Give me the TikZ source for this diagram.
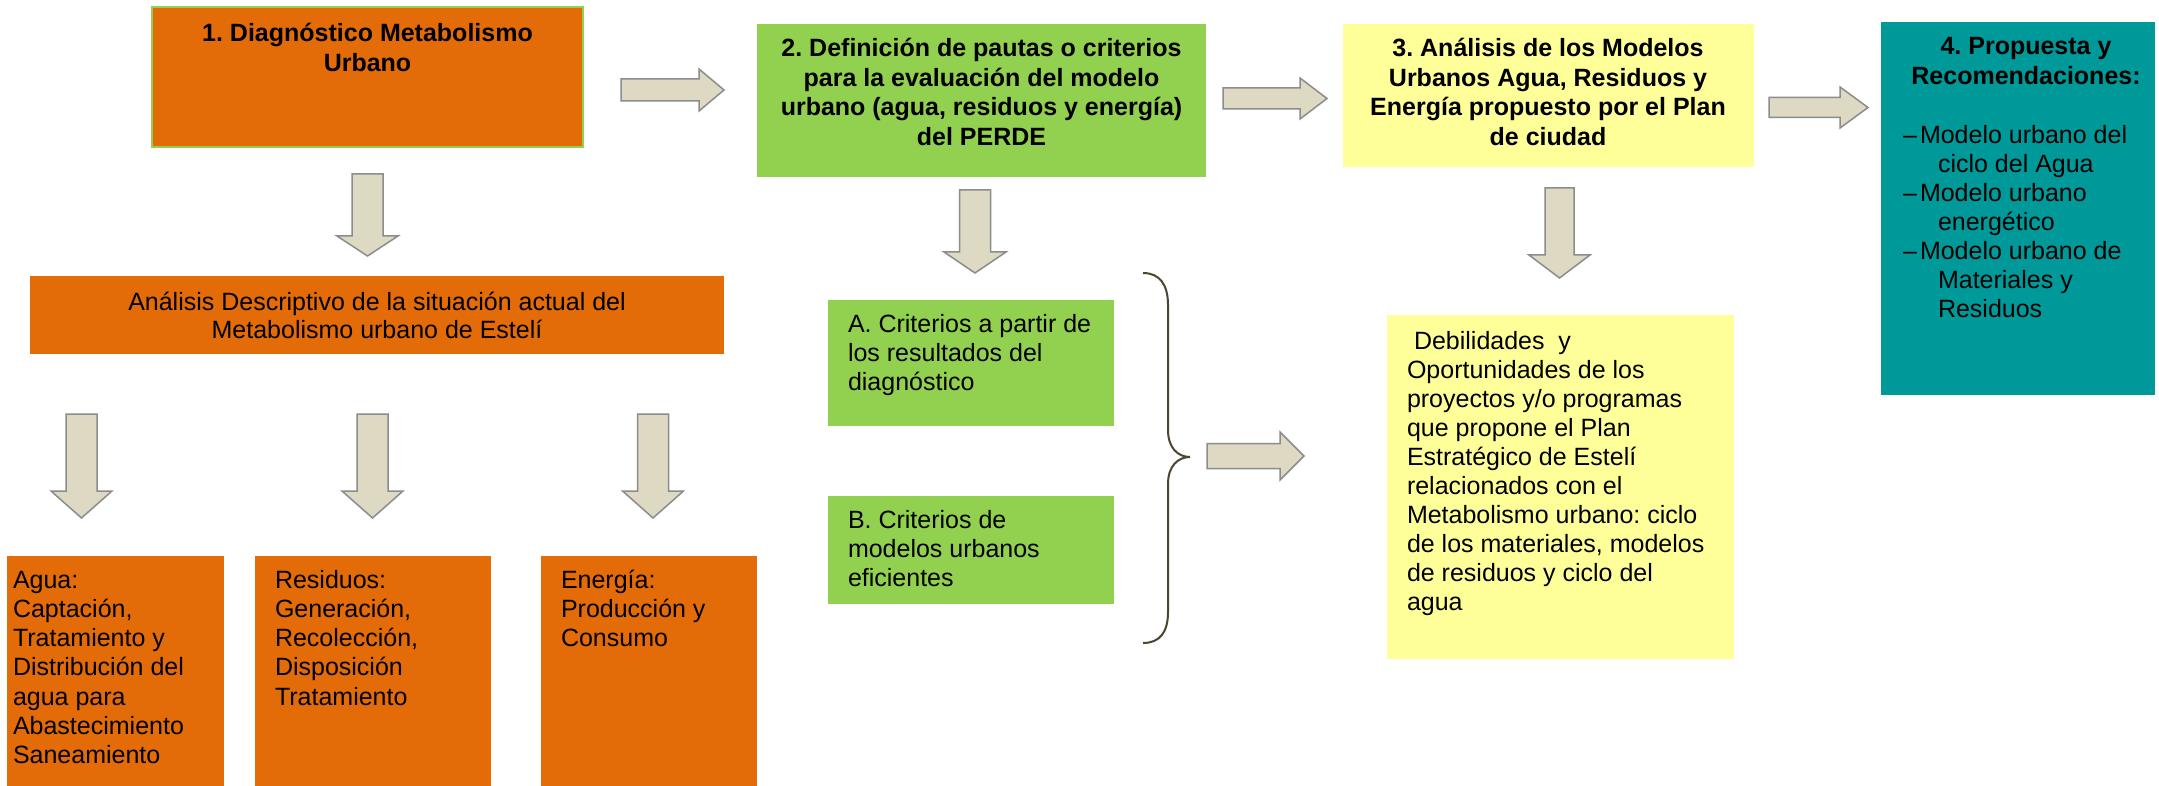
\documentclass[tikz,border=0pt]{standalone}
\usepackage{fontspec}
\setmainfont{Liberation Sans}
\frenchspacing
\definecolor{orng}{HTML}{E36C09}
\definecolor{grn}{HTML}{92D050}
\definecolor{ylw}{HTML}{FFFF99}
\definecolor{teal4}{HTML}{009999}
\definecolor{arrfill}{HTML}{DDD9C3}
\definecolor{arrline}{HTML}{8C8C8C}
\definecolor{bracec}{HTML}{4B4631}
\newcommand\fl{\rule{0pt}{24pt}}
% right block arrow: xl, xhead, xtip, ycenter, shaft half, head half
\newcommand\rblockarrow[6]{\draw[blockarr] ({#1},{#4-#5}) -- ({#2},{#4-#5}) -- ({#2},{#4-#6}) -- ({#3},{#4}) -- ({#2},{#4+#6}) -- ({#2},{#4+#5}) -- ({#1},{#4+#5}) -- cycle;}
% down block arrow: xcenter, ytop, yhead, ytip, shaft half, head half
\newcommand\dblockarrow[6]{\draw[blockarr] ({#1-#5},{#2}) -- ({#1+#5},{#2}) -- ({#1+#5},{#3}) -- ({#1+#6},{#3}) -- ({#1},{#4}) -- ({#1-#6},{#3}) -- ({#1-#5},{#3}) -- cycle;}
\begin{document}
\frenchspacing
\begin{tikzpicture}[x=1pt,y=-1pt,
  box/.style={rectangle, inner sep=0pt, outer sep=0pt, anchor=north west},
  txt/.style={inner sep=0pt, outer sep=0pt, text=black, font=\fontsize{25}{29}\selectfont},
  ttl/.style={inner sep=0pt, outer sep=0pt, text=black, font=\fontsize{25}{29.5}\selectfont\bfseries, align=center, anchor=north},
  blockarr/.style={fill=arrfill, draw=arrline, line width=1.5pt, line join=miter}]
\useasboundingbox (0,0) rectangle (2159,786);
\fill[white] (0,0) rectangle (2159,786);

% boxes
\node[box, fill=orng, draw=grn, line width=2pt, minimum width=431pt, minimum height=140pt] (b1) at (152,7) {};
\node[box, fill=grn, minimum width=449pt, minimum height=153pt] (b2) at (757,24) {};
\node[box, fill=ylw, minimum width=411pt, minimum height=143pt] (b3) at (1343,24) {};
\node[box, fill=teal4, minimum width=274pt, minimum height=373pt] (b4) at (1881,22) {};
\node[box, fill=orng, minimum width=694pt, minimum height=78pt] (ban) at (30,276) {};
\node[box, fill=grn, minimum width=286pt, minimum height=126pt] (bA) at (828,300) {};
\node[box, fill=grn, minimum width=286pt, minimum height=108pt] (bB) at (828,496) {};
\node[box, fill=ylw, minimum width=347pt, minimum height=344pt] (bD) at (1387,315) {};
\node[box, fill=orng, minimum width=217pt, minimum height=230pt] (bagua) at (7,556) {};
\node[box, fill=orng, minimum width=236pt, minimum height=230pt] (bres) at (255,556) {};
\node[box, fill=orng, minimum width=216pt, minimum height=230pt] (bene) at (541,556) {};

% texts
\node[ttl, font=\fontsize{25}{30}\selectfont\bfseries] (b1t) at (367.5,18) {\fl 1. Diagnóstico Metabolismo\\Urbano};
\node[ttl] (b2t) at (981.5,33) {\fl 2. Definición de pautas o criterios\\para la evaluación del modelo\\urbano (agua, residuos y energía)\\del PERDE};
\node[ttl] (b3t) at (1548,33) {\fl 3. Análisis de los Modelos\\Urbanos Agua, Residuos y\\Energía propuesto por el Plan\\de ciudad};
\node[ttl, font=\fontsize{25}{30}\selectfont\bfseries] (b4t) at (2026,31) {\fl 4. Propuesta y\\Recomendaciones:};
\node[txt, align=left, anchor=north west] (b4l) at (1903,119) {\fl\makebox[17pt][l]{–}Modelo urbano del\\\hspace*{35pt}ciclo del Agua\\\makebox[17pt][l]{–}Modelo urbano\\\hspace*{35pt}energético\\\makebox[17pt][l]{–}Modelo urbano de\\\hspace*{35pt}Materiales y\\\hspace*{35pt}Residuos};
\node[txt, align=center, anchor=north, font=\fontsize{25}{28.5}\selectfont] (bant) at (377,286) {\fl Análisis Descriptivo de la situación actual del\\Metabolismo urbano de Estelí};
\node[txt, align=left, anchor=north west] (bAt) at (848,308) {\fl A. Criterios a partir de\\los resultados del\\diagnóstico};
\node[txt, align=left, anchor=north west] (bBt) at (848,504) {\fl B. Criterios de\\modelos urbanos\\eficientes};
\node[txt, align=left, anchor=north west] (bDt) at (1407,325) {\fl\hspace*{7pt}Debilidades\ \ y\\Oportunidades de los\\proyectos y/o programas\\que propone el Plan\\Estratégico de Estelí\\relacionados con el\\Metabolismo urbano: ciclo\\de los materiales, modelos\\de residuos y ciclo del\\agua};
\node[txt, align=left, anchor=north west, font=\fontsize{25}{29.33}\selectfont] (baguat) at (13,564) {\fl Agua:\\Captación,\\Tratamiento y\\Distribución del\\agua para\\Abastecimiento\\Saneamiento};
\node[txt, align=left, anchor=north west, font=\fontsize{25}{29.33}\selectfont] (brest) at (275,564) {\fl Residuos:\\Generación,\\Recolección,\\Disposición\\Tratamiento};
\node[txt, align=left, anchor=north west, font=\fontsize{25}{29.33}\selectfont] (benet) at (561,564) {\fl Energía:\\Producción y\\Consumo};

% block arrows
\rblockarrow{621}{699}{724}{90}{11}{21}
\rblockarrow{1223}{1300}{1327}{98.5}{10.5}{20.5}
\rblockarrow{1769}{1840}{1868}{107.5}{10}{20.5}
\rblockarrow{1207}{1280}{1304}{456}{12.5}{24}
\dblockarrow{367.5}{174}{236}{256}{15.5}{30.5}
\dblockarrow{975}{190}{252}{273}{15.5}{31}
\dblockarrow{1559.5}{188}{255}{278}{14.5}{30.5}
\dblockarrow{81.5}{414}{491}{518}{15.5}{30.5}
\dblockarrow{372.5}{414}{491}{518}{15.5}{30.5}
\dblockarrow{653}{414}{491}{518}{15.5}{30.5}

% brace
\draw[bracec, line width=2pt] (1143,273) .. controls (1160,273) and (1168,285) .. (1168,305) -- (1168,430) .. controls (1168,448) and (1178,457) .. (1190,457) .. controls (1178,457) and (1168,466) .. (1168,484) -- (1168,612) .. controls (1168,632) and (1160,643) .. (1143,643);
\end{tikzpicture}
\end{document}
